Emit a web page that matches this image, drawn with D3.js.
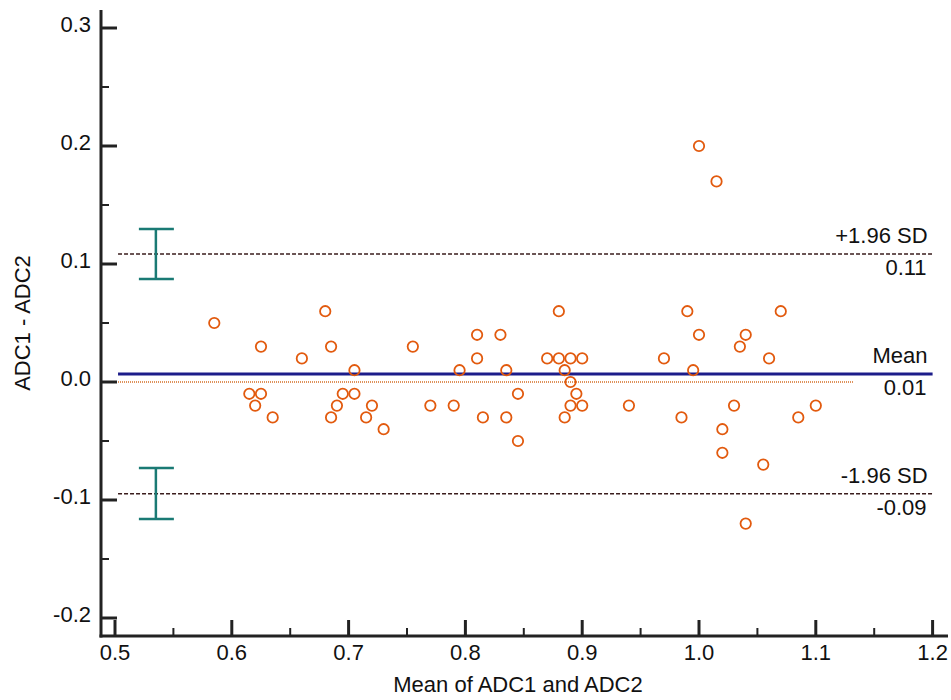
<!DOCTYPE html>
<html>
<head>
<meta charset="utf-8">
<script src="https://cdn.jsdelivr.net/npm/d3@7"></script>
<style>
  body { margin: 0; background: white; }
  text { font-family: "Liberation Sans", Arial, sans-serif; fill: #111; }
</style>
</head>
<body>
<div class="mainVis"></div>
<script>
// mean of the two measurements
var meanVals = [
  0.585, 0.615, 0.62, 0.625, 0.625, 0.635, 0.66, 0.68, 0.685, 0.685,
  0.69, 0.695, 0.705, 0.705, 0.715, 0.72, 0.73, 0.755, 0.77, 0.79,
  0.795, 0.81, 0.81, 0.815, 0.83, 0.835, 0.835, 0.845, 0.845, 0.87,
  0.88, 0.88, 0.885, 0.885, 0.89, 0.89, 0.895, 0.89, 0.9, 0.9,
  0.94, 0.97, 0.985, 0.99, 0.995, 1.0, 1.0, 1.015, 1.02, 1.02,
  1.03, 1.035, 1.04, 1.04, 1.055, 1.06, 1.07, 1.085, 1.1
]
// difference ADC1 - ADC2
var diffVals = [
  0.05, -0.01, -0.02, 0.03, -0.01, -0.03, 0.02, 0.06, 0.03, -0.03,
  -0.02, -0.01, 0.01, -0.01, -0.03, -0.02, -0.04, 0.03, -0.02, -0.02,
  0.01, 0.02, 0.04, -0.03, 0.04, 0.01, -0.03, -0.01, -0.05, 0.02,
  0.06, 0.02, 0.01, -0.03, 0.02, 0.00, -0.01, -0.02, 0.02, -0.02,
  -0.02, 0.02, -0.03, 0.06, 0.01, 0.04, 0.20, 0.17, -0.04, -0.06,
  -0.02, 0.03, 0.04, -0.12, -0.07, 0.02, 0.06, -0.03, -0.02
]

var refLines = [
  { name: "+1.96 SD", label: "0.11", value: 0.1085, ci: [0.0873, 0.1297] },
  { name: "Mean", label: "0.01", value: 0.0068, ci: null },
  { name: "-1.96 SD", label: "-0.09", value: -0.0947, ci: [-0.1161, -0.0729] }
]

var xTicks = [0.5, 0.6, 0.7, 0.8, 0.9, 1.0, 1.1, 1.2]
var xTickLabels = ["0.5", "0.6", "0.7", "0.8", "0.9", "1.0", "1.1", "1.2"]
var yTicks = [-0.2, -0.1, 0.0, 0.1, 0.2, 0.3]
var yTickLabels = ["-0.2", "-0.1", "0.0", "0.1", "0.2", "0.3"]
var xMinor = [0.55, 0.65, 0.75, 0.85, 0.95, 1.05, 1.15]
var yMinor = [-0.15, -0.05, 0.05, 0.15, 0.25]

var width = 951, height = 700
var fontSize = "22px"

var svg = d3.select(".mainVis")
    .append("svg")
    .attr("width", width)
    .attr("height", height)

var x = d3.scaleLinear().domain([0.5, 1.2]).range([115, 932.6])
var y = d3.scaleLinear().domain([-0.2, 0.3]).range([618, 28])

var axisLeft = 101, axisBottom = 636

// zero line (dotted)
svg.append("line")
    .attr("x1", x(0.5026)).attr("x2", x(1.132))
    .attr("y1", y(0)).attr("y2", y(0))
    .attr("stroke", "#d2691e")
    .attr("stroke-width", 1.3)
    .attr("stroke-dasharray", "1,1")

// limits of agreement
refLines.forEach(function(r) {
    var isMean = r.name === "Mean"
    svg.append("line")
        .attr("x1", x(0.5026)).attr("x2", x(1.2))
        .attr("y1", y(r.value)).attr("y2", y(r.value))
        .attr("stroke", isMean ? "#1c1c8a" : "#3a1c1c")
        .attr("stroke-width", isMean ? 3 : 1.4)
        .attr("stroke-dasharray", isMean ? null : "4,2")

    svg.append("text")
        .attr("x", x(1.2) - 5)
        .attr("y", y(r.value) - 11)
        .attr("text-anchor", "end")
        .style("font-size", fontSize)
        .text(r.name)
    svg.append("text")
        .attr("x", x(1.2) - 6)
        .attr("y", y(r.value) + 21)
        .attr("text-anchor", "end")
        .style("font-size", fontSize)
        .text(r.label)

    if (r.ci) {
        var cx = x(0.535)
        var g = svg.append("g").attr("stroke", "#1a7a74").attr("stroke-width", 2.5)
        g.append("line").attr("x1", cx).attr("x2", cx).attr("y1", y(r.ci[0])).attr("y2", y(r.ci[1]))
        g.append("line").attr("x1", cx - 17).attr("x2", cx + 18).attr("y1", y(r.ci[0])).attr("y2", y(r.ci[0]))
        g.append("line").attr("x1", cx - 17).attr("x2", cx + 18).attr("y1", y(r.ci[1])).attr("y2", y(r.ci[1]))
    }
})

// points
svg.selectAll(".pt")
    .data(d3.range(meanVals.length))
    .enter()
    .append("circle")
    .attr("class", "pt")
    .attr("cx", function(i) { return x(meanVals[i]) })
    .attr("cy", function(i) { return y(diffVals[i]) })
    .attr("r", 5.2)
    .attr("fill", "none")
    .attr("stroke", "#e25a0e")
    .attr("stroke-width", 1.8)

// axes
var axisColor = "#222"
svg.append("line")
    .attr("x1", axisLeft).attr("x2", axisLeft)
    .attr("y1", 10).attr("y2", axisBottom + 1.5)
    .attr("stroke", axisColor).attr("stroke-width", 3)
svg.append("line")
    .attr("x1", axisLeft - 1.5).attr("x2", 948)
    .attr("y1", axisBottom).attr("y2", axisBottom)
    .attr("stroke", axisColor).attr("stroke-width", 3)

yTicks.forEach(function(t, i) {
    svg.append("line")
        .attr("x1", axisLeft).attr("x2", axisLeft + 16)
        .attr("y1", y(t)).attr("y2", y(t))
        .attr("stroke", axisColor).attr("stroke-width", 3)
    svg.append("text")
        .attr("x", axisLeft - 10)
        .attr("y", y(t) + 4)
        .attr("text-anchor", "end")
        .style("font-size", fontSize)
        .text(yTickLabels[i])
})
yMinor.forEach(function(t) {
    svg.append("line")
        .attr("x1", axisLeft).attr("x2", axisLeft + 8)
        .attr("y1", y(t)).attr("y2", y(t))
        .attr("stroke", axisColor).attr("stroke-width", 2)
})
xTicks.forEach(function(t, i) {
    svg.append("line")
        .attr("x1", x(t)).attr("x2", x(t))
        .attr("y1", axisBottom).attr("y2", axisBottom - 16)
        .attr("stroke", axisColor).attr("stroke-width", 3)
    svg.append("text")
        .attr("x", x(t))
        .attr("y", axisBottom + 24)
        .attr("text-anchor", "middle")
        .style("font-size", fontSize)
        .text(xTickLabels[i])
})
xMinor.forEach(function(t) {
    svg.append("line")
        .attr("x1", x(t)).attr("x2", x(t))
        .attr("y1", axisBottom).attr("y2", axisBottom - 8)
        .attr("stroke", axisColor).attr("stroke-width", 2)
})

svg.append("text")
    .attr("x", 518)
    .attr("y", 692)
    .attr("text-anchor", "middle")
    .style("font-size", fontSize)
    .text("Mean of ADC1 and ADC2")

svg.append("text")
    .attr("transform", "translate(30, 323) rotate(-90)")
    .attr("text-anchor", "middle")
    .style("font-size", fontSize)
    .text("ADC1 - ADC2")
</script>
</body>
</html>
